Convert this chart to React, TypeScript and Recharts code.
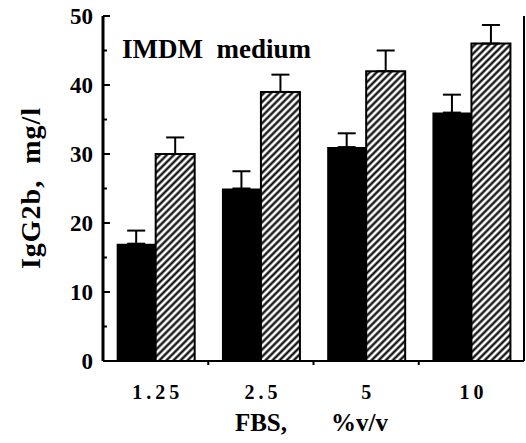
import { BarChart, Bar, XAxis, YAxis, ErrorBar } from 'recharts';

const categories = ['1.25', '2.5', '5', '10'];
const solidValues = [17, 25, 31, 36];
const solidErrors = [1.9, 2.5, 2.0, 2.6];
const hatchedValues = [30, 39, 42, 46];
const hatchedErrors = [2.4, 2.5, 3.0, 2.7];
const yTicks = [0, 5, 10, 15, 20, 25, 30, 35, 40, 45, 50];
const rightTicks = [5, 10, 15, 20, 25, 30, 35, 40, 45];

const W = 526;
const H = 443;
const LEFT = 103;
const PLOT_W = 421;
const BAND = PLOT_W / categories.length;
const FONT = '"Liberation Serif", "DejaVu Serif", serif';

const data = categories.map((c, i) => ({
  fbs: c,
  solid: solidValues[i],
  solidErr: [0, solidErrors[i]],
  hatched: hatchedValues[i],
  hatchedErr: [0, hatchedErrors[i]],
}));

function LeftTick(props: any) {
  const { x, y, payload } = props;
  const major = payload.value % 10 === 0;
  return (
    <g>
      <line x1={x} x2={x + (major ? 7 : 4)} y1={y} y2={y} stroke="#000" strokeWidth={2} />
      {major && (
        <text x={x - 10} y={y + 8} textAnchor="end" fontFamily={FONT} fontWeight="bold" fontSize={23} fill="#000">
          {payload.value}
        </text>
      )}
    </g>
  );
}

function RightTick(props: any) {
  const { x, y } = props;
  return <line x1={x} x2={x - 5} y1={y} y2={y} stroke="#000" strokeWidth={2} />;
}

function BottomTick(props: any) {
  const { x, y, payload, index } = props;
  return (
    <g>
      {index > 0 && (
        <line x1={x - BAND / 2} x2={x - BAND / 2} y1={y} y2={y + 4} stroke="#000" strokeWidth={2} />
      )}
      <text x={x + 2} y={y + 38} textAnchor="middle" fontFamily={FONT} fontWeight="bold" fontSize={20} letterSpacing={4} fill="#000">
        {payload.value}
      </text>
    </g>
  );
}

export default function App() {
  return (
    <div style={{ position: 'absolute', left: 0, top: 0, width: W, height: H, background: '#fff' }}>
      <BarChart
        width={W}
        height={H}
        data={data}
        margin={{ top: 16, right: 0, left: 0, bottom: 0 }}
        barCategoryGap="13%"
        barGap={0}
      >
        <defs>
          <pattern id="hatch" patternUnits="userSpaceOnUse" width={5} height={5} patternTransform="rotate(45)">
            <rect width={5} height={5} fill="#fff" />
            <line x1={2.5} y1={0} x2={2.5} y2={5} stroke="#000" strokeWidth={2.2} />
          </pattern>
        </defs>
        <XAxis
          dataKey="fbs"
          height={82}
          interval={0}
          tickSize={0}
          tickMargin={0}
          tickLine={false}
          axisLine={{ stroke: '#000', strokeWidth: 2 }}
          tick={<BottomTick />}
        />
        <XAxis xAxisId="top" dataKey="fbs" orientation="top" height={0} tick={false} tickLine={false} axisLine={{ stroke: '#000', strokeWidth: 2 }} />
        <YAxis
          width={LEFT}
          domain={[0, 50]}
          ticks={yTicks}
          interval={0}
          tickSize={0}
          tickMargin={0}
          tickLine={false}
          axisLine={{ stroke: '#000', strokeWidth: 3 }}
          tick={<LeftTick />}
        />
        <YAxis
          yAxisId="r"
          orientation="right"
          width={2}
          domain={[0, 50]}
          ticks={rightTicks}
          interval={0}
          tickSize={0}
          tickMargin={0}
          tickLine={false}
          axisLine={{ stroke: '#000', strokeWidth: 2 }}
          tick={<RightTick />}
        />
        <Bar dataKey="solid" fill="#000" isAnimationActive={false}>
          <ErrorBar dataKey="solidErr" width={9} stroke="#000" strokeWidth={2} isAnimationActive={false} />
        </Bar>
        <Bar dataKey="hatched" fill="url(#hatch)" stroke="#000" strokeWidth={2} isAnimationActive={false}>
          <ErrorBar dataKey="hatchedErr" width={9} stroke="#000" strokeWidth={2} isAnimationActive={false} />
        </Bar>
        <text x={122} y={58} fontFamily={FONT} fontWeight="bold" fontSize={27} fill="#000">
          {'IMDM\u00A0\u00A0medium'}
        </text>
        <text
          x={0}
          y={0}
          transform="translate(40, 188) rotate(-90)"
          textAnchor="middle"
          fontFamily={FONT}
          fontWeight="bold"
          fontSize={28}
          letterSpacing={1}
          fill="#000"
        >
          {'IgG2b,\u00A0\u00A0mg/l'}
        </text>
        <text x={287} y={431} textAnchor="end" fontFamily={FONT} fontWeight="bold" fontSize={25} fill="#000">
          FBS,
        </text>
        <text x={331} y={431} textAnchor="start" fontFamily={FONT} fontWeight="bold" fontSize={25} fill="#000">
          %v/v
        </text>
      </BarChart>
    </div>
  );
}
